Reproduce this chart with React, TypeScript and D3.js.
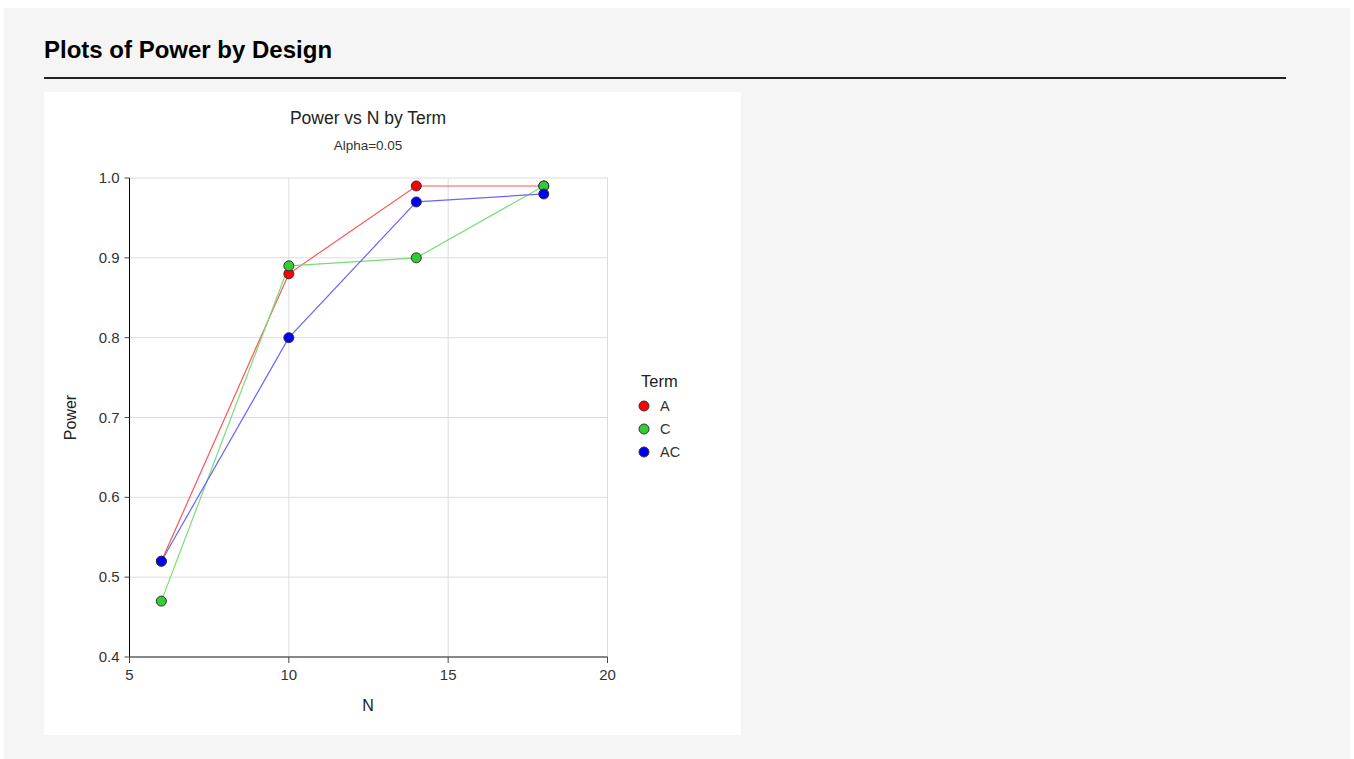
import React from "react";
import * as d3 from "d3";

const nValues = [6, 10, 14, 18];
const terms = ["A", "C", "AC"];
const powerA = [0.52, 0.88, 0.99, 0.99];
const powerC = [0.47, 0.89, 0.9, 0.99];
const powerAC = [0.52, 0.8, 0.97, 0.98];
const xTicks = [5, 10, 15, 20];
const yTicks = [0.4, 0.5, 0.6, 0.7, 0.8, 0.9, 1.0];

const seriesColors: Record<string, string> = { A: "#ff0000", C: "#33cc33", AC: "#0000ff" };
const lineColors: Record<string, string> = { A: "#ff5555", C: "#77dd77", AC: "#6666ff" };

const FONT = "'Liberation Sans', Arial, sans-serif";

export default function App() {
  const W = 1354;
  const H = 759;
  const x = d3.scaleLinear().domain([5, 20]).range([129.5, 607.5]);
  const y = d3.scaleLinear().domain([0.4, 1.0]).range([657, 178]);

  const series = [
    { name: "A", values: powerA },
    { name: "C", values: powerC },
    { name: "AC", values: powerAC },
  ];

  const line = d3
    .line<[number, number]>()
    .x((d) => x(d[0]))
    .y((d) => y(d[1]));

  return (
    <svg
      width={W}
      height={H}
      style={{ position: "absolute", left: 0, top: 0, fontFamily: FONT }}
    >
      <rect x={4} y={8} width={1346} height={751} fill="#f5f5f5" />
      <text x={44} y={58} fontSize={24} fontWeight="bold" fill="#000">
        Plots of Power by Design
      </text>
      <rect x={44} y={77} width={1242} height={2} fill="#222" />
      <rect x={44} y={92} width={697} height={643} fill="#ffffff" />

      <text x={368} y={124} fontSize={17.5} textAnchor="middle" fill="#222">
        Power vs N by Term
      </text>
      <text x={368} y={150} fontSize={13.5} textAnchor="middle" fill="#333">
        Alpha=0.05
      </text>

      {/* grid */}
      {yTicks.map((t) => (
        <line key={"gy" + t} x1={x(5)} x2={x(20)} y1={y(t)} y2={y(t)} stroke="#dcdcdc" strokeWidth={1} />
      ))}
      {xTicks.map((t) => (
        <line key={"gx" + t} x1={x(t)} x2={x(t)} y1={y(0.4)} y2={y(1.0)} stroke="#dcdcdc" strokeWidth={1} />
      ))}

      {/* axes */}
      <line x1={x(5)} x2={x(5)} y1={y(1.0)} y2={y(0.4)} stroke="#000" strokeWidth={1} />
      {yTicks.map((t) => (
        <g key={"ty" + t}>
          <line x1={x(5) - 5} x2={x(5)} y1={y(t)} y2={y(t)} stroke="#444" strokeWidth={1} />
          <text x={x(5) - 10} y={y(t) + 5} fontSize={15} textAnchor="end" fill="#333">
            {d3.format(".1f")(t)}
          </text>
        </g>
      ))}
      <line x1={x(5)} x2={x(20)} y1={y(0.4)} y2={y(0.4)} stroke="#666" strokeWidth={1.5} />
      {xTicks.map((t) => (
        <g key={"tx" + t}>
          <line x1={x(t)} x2={x(t)} y1={y(0.4)} y2={y(0.4) + 6} stroke="#444" strokeWidth={1} />
          <text x={x(t)} y={y(0.4) + 23} fontSize={15} textAnchor="middle" fill="#333">
            {t}
          </text>
        </g>
      ))}

      <text x={368} y={711} fontSize={16} textAnchor="middle" fill="#222">
        N
      </text>
      <text
        transform={`translate(76,${(y(0.4) + y(1.0)) / 2}) rotate(-90)`}
        fontSize={16}
        textAnchor="middle"
        fill="#222"
      >
        Power
      </text>

      {/* series lines */}
      {series.map((s) => (
        <path
          key={"l" + s.name}
          d={line(nValues.map((n, i) => [n, s.values[i]] as [number, number])) || ""}
          fill="none"
          stroke={lineColors[s.name]}
          strokeWidth={1.2}
        />
      ))}
      {/* markers */}
      {series.map((s) => (
        <g key={"m" + s.name}>
          {nValues.map((n, i) => (
            <circle
              key={n}
              cx={x(n)}
              cy={y(s.values[i])}
              r={5}
              fill={seriesColors[s.name]}
              stroke="#333"
              strokeWidth={1}
            />
          ))}
        </g>
      ))}

      {/* legend */}
      <text x={641} y={387} fontSize={16.5} fill="#222">
        Term
      </text>
      {terms.map((t, i) => (
        <g key={"lg" + t}>
          <circle cx={644} cy={406 + i * 23} r={5} fill={seriesColors[t]} stroke="#333" strokeWidth={1} />
          <text x={660} y={411 + i * 23} fontSize={14.5} fill="#333">
            {t}
          </text>
        </g>
      ))}
    </svg>
  );
}
